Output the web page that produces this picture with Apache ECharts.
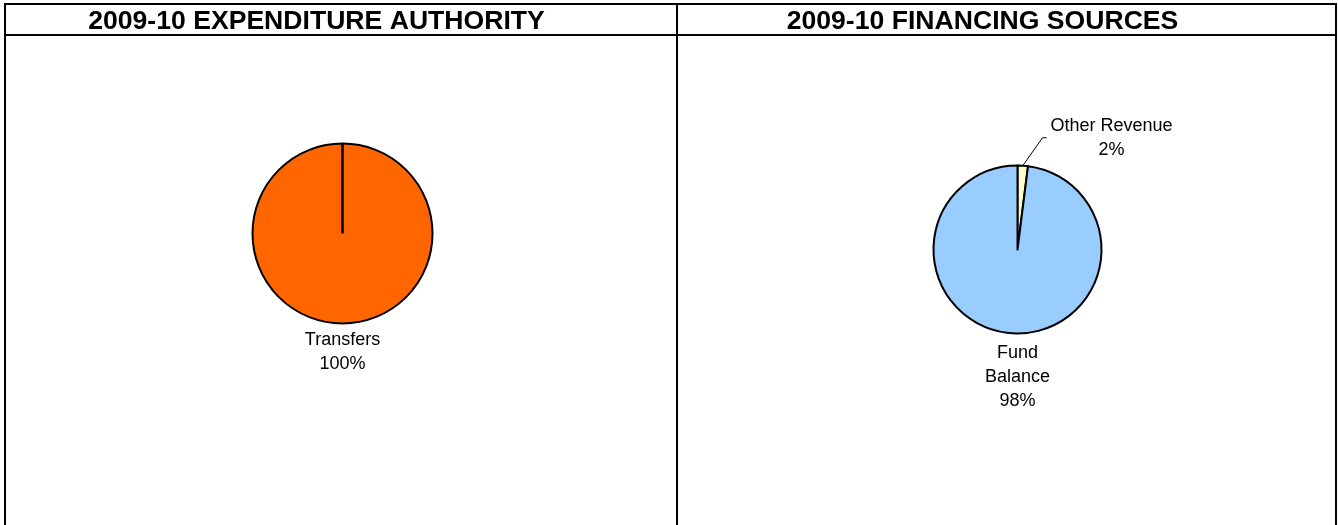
<!DOCTYPE html>
<html>
<head>
<meta charset="utf-8">
<script src="https://cdn.jsdelivr.net/npm/echarts@6/dist/echarts.min.js"></script>
<style>
  html, body { margin: 0; padding: 0; background: #fff; }
  #main { width: 1338px; height: 525px; }
</style>
</head>
<body>
<div id="main"></div>
<script>
// data
const expenditureNames = ["Transfers"];
const expenditureValues = [100];
const financingNames = ["Other Revenue", "Fund Balance"];
const financingValues = [2, 98];

const FONT = "'Liberation Sans', Arial, sans-serif";
const pieCenters = [[342.5, 233.5], [1017.5, 249.5]];
const pieRadii = [90, 84];
const leaderLabel = "Other Revenue";
const sliceColors = {
    "Transfers": "#FF6600",
    "Other Revenue": "#FFFFCC",
    "Fund Balance": "#99CCFF"
};

function pctLabel (p) {
    const name = p.name === "Fund Balance" ? "Fund\nBalance" : p.name;
    return name + "\n" + Math.round(p.percent) + "%";
}

function buildData (names, values, lineLen) {
    return names.map(function (n, i) {
        return {
            name: n,
            value: values[i],
            itemStyle: { color: sliceColors[n] },
            labelLine: { show: n === leaderLabel, length: lineLen[n], length2: n === leaderLabel ? 22 : 0 }
        };
    });
}

function borderLine (id, x1, y1, x2, y2) {
    return { id: id, type: "line", shape: { x1: x1, y1: y1, x2: x2, y2: y2 }, style: { stroke: "#000", lineWidth: 2 } };
}

function drawPanels (domId) {
    const chart = echarts.init(document.getElementById(domId));
    const pieBase = {
        type: "pie",
        startAngle: 90,
        clockwise: true,
        avoidLabelOverlap: false,
        animation: false,
        silent: true,
        itemStyle: { borderColor: "#000", borderWidth: 2 },
        label: {
            position: "outside",
            formatter: pctLabel,
            fontFamily: FONT,
            fontSize: 18,
            lineHeight: 24,
            color: "#000",
            distanceToLabelLine: 4
        },
        labelLine: { lineStyle: { color: "#000", width: 1 } },
        labelLayout: function (params) {
            const out = { align: "center" };
            if (params.text.indexOf(leaderLabel) === 0 && params.labelLinePoints) {
                const pts = params.labelLinePoints;
                out.x = params.labelRect.x + params.labelRect.width / 2;
                out.labelLinePoints = [pts[0], [pts[2][0] - 4, pts[2][1]], pts[2]];
            } else {
                // labels below the pie sit centred under it
                out.x = pieCenters[params.seriesIndex][0];
            }
            return out;
        }
    };
    const titleStyle = { fontFamily: FONT, fontSize: 26.6, fontWeight: "bold", color: "#000" };
    const option = {
        animation: false,
        title: [
            { text: "2009-10 EXPENDITURE AUTHORITY", left: 316.5, top: 8, padding: 0, textAlign: "center", textStyle: titleStyle },
            { text: "2009-10 FINANCING SOURCES", left: 982.5, top: 8, padding: 0, textAlign: "center", textStyle: titleStyle }
        ],
        graphic: [
            borderLine("top", 4, 4, 1337, 4),
            borderLine("head", 5, 35, 1336, 35),
            borderLine("left", 5, 3, 5, 525),
            borderLine("mid", 677, 3, 677, 525),
            borderLine("right", 1336, 3, 1336, 525)
        ],
        series: [
            Object.assign({}, pieBase, {
                name: "Expenditure",
                center: pieCenters[0],
                radius: pieRadii[0],
                data: buildData(expenditureNames, expenditureValues, { "Transfers": 29 })
            }),
            Object.assign({}, pieBase, {
                name: "Financing",
                center: pieCenters[1],
                radius: pieRadii[1],
                data: buildData(financingNames, financingValues, { "Other Revenue": 28, "Fund Balance": 44 })
            })
        ]
    };
    chart.setOption(option);

    // a single 100% slice is drawn as a plain circle; add its edge from the centre to the top
    const layout = chart.getModel().getSeriesByIndex(0).getData().getItemLayout(0);
    chart.setOption({
        graphic: [{
            id: "edge",
            type: "line",
            z: 10,
            shape: { x1: layout.cx, y1: layout.cy, x2: layout.cx, y2: layout.cy - layout.r },
            style: { stroke: "#000", lineWidth: 2.5 }
        }]
    });
    return chart;
}

drawPanels("main");
</script>
</body>
</html>
